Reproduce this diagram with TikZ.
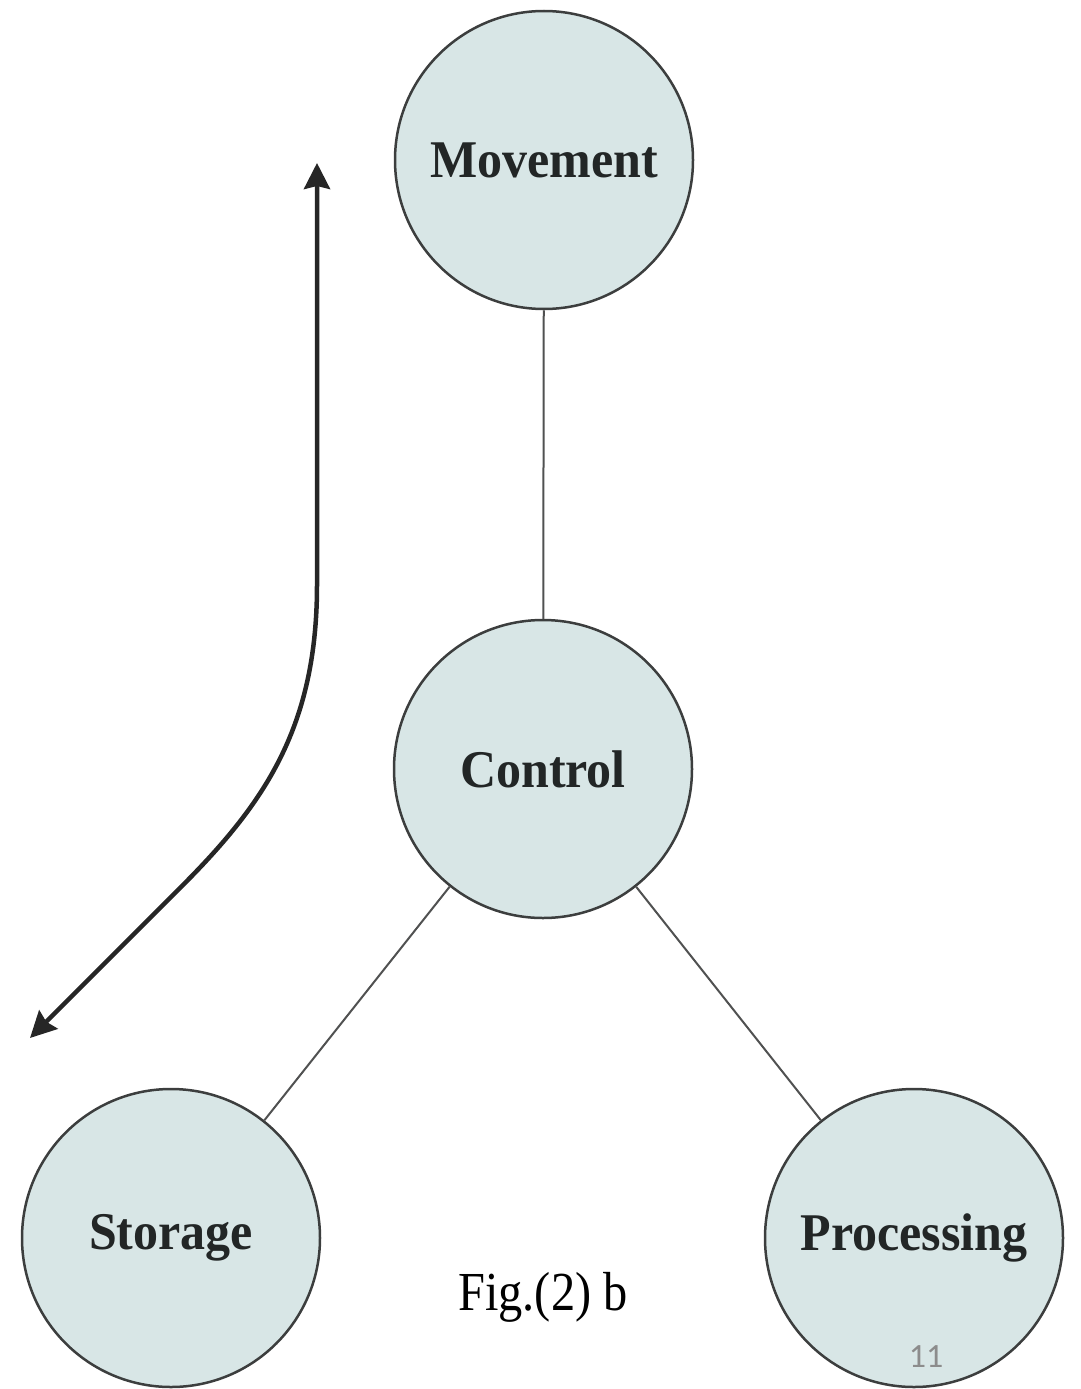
\documentclass[tikz,border=0pt]{standalone}
\usepackage{fontspec}
\setmainfont{Liberation Serif}
\newfontfamily\pagenumfont{Carlito}
\usetikzlibrary{arrows.meta}
\definecolor{nodefill}{RGB}{216,230,230}
\definecolor{nodeedge}{RGB}{60,62,62}
\definecolor{labeltext}{RGB}{34,38,38}
\definecolor{pagegray}{RGB}{140,140,140}
\tikzset{
  unit/.style={circle, draw=nodeedge, fill=nodefill, line width=2.5pt, minimum size=298pt, inner sep=0pt},
  unitlabel/.style={font=\fontsize{50}{52}\selectfont\bfseries, text=labeltext, inner sep=0pt, yscale=1.06},
  link/.style={draw=nodeedge!90, line width=2pt},
  flow/.style={line width=4.5pt, black!85, {Stealth[length=26pt,width=26pt,inset=3pt]}-{Stealth[length=26pt,width=26pt,inset=3pt]}}
}
\begin{document}
\begin{tikzpicture}[x=1pt,y=-1pt]
\useasboundingbox (0,0) rectangle (1081,1389);
\node[unit] (mov) at (544,160) {};
\node[unit] (ctl) at (543,769) {};
\node[unit] (sto) at (171,1238) {};
\node[unit] (pro) at (914,1238) {};
\node[unitlabel] (movl) at (mov.center) {Movement};
\node[unitlabel] (ctll) at (ctl.center) {Control};
\node[unitlabel] (stol) at (sto.center) {Storage};
\node[unitlabel] (prol) at (pro.center) {Processing};
\draw[link] (mov) -- (ctl);
\draw[link] (ctl) -- (sto);
\draw[link] (ctl) -- (pro);
\coordinate (ftop) at (317,163);
\coordinate (fbend) at (317,585);
\coordinate (fmid) at (180,888);
\coordinate (fend) at (30,1038);
\draw[flow] (ftop) -- (fbend) .. controls (317,730) and (262,806) .. (fmid) -- (fend);
\node[font=\fontsize{55}{57}\selectfont, xscale=0.88] (cap) at (543,1297) {Fig.(2) b};
\node[font=\pagenumfont\fontsize{34}{36}\selectfont, text=pagegray] (pg) at (926,1357) {11};
\end{tikzpicture}
\end{document}
